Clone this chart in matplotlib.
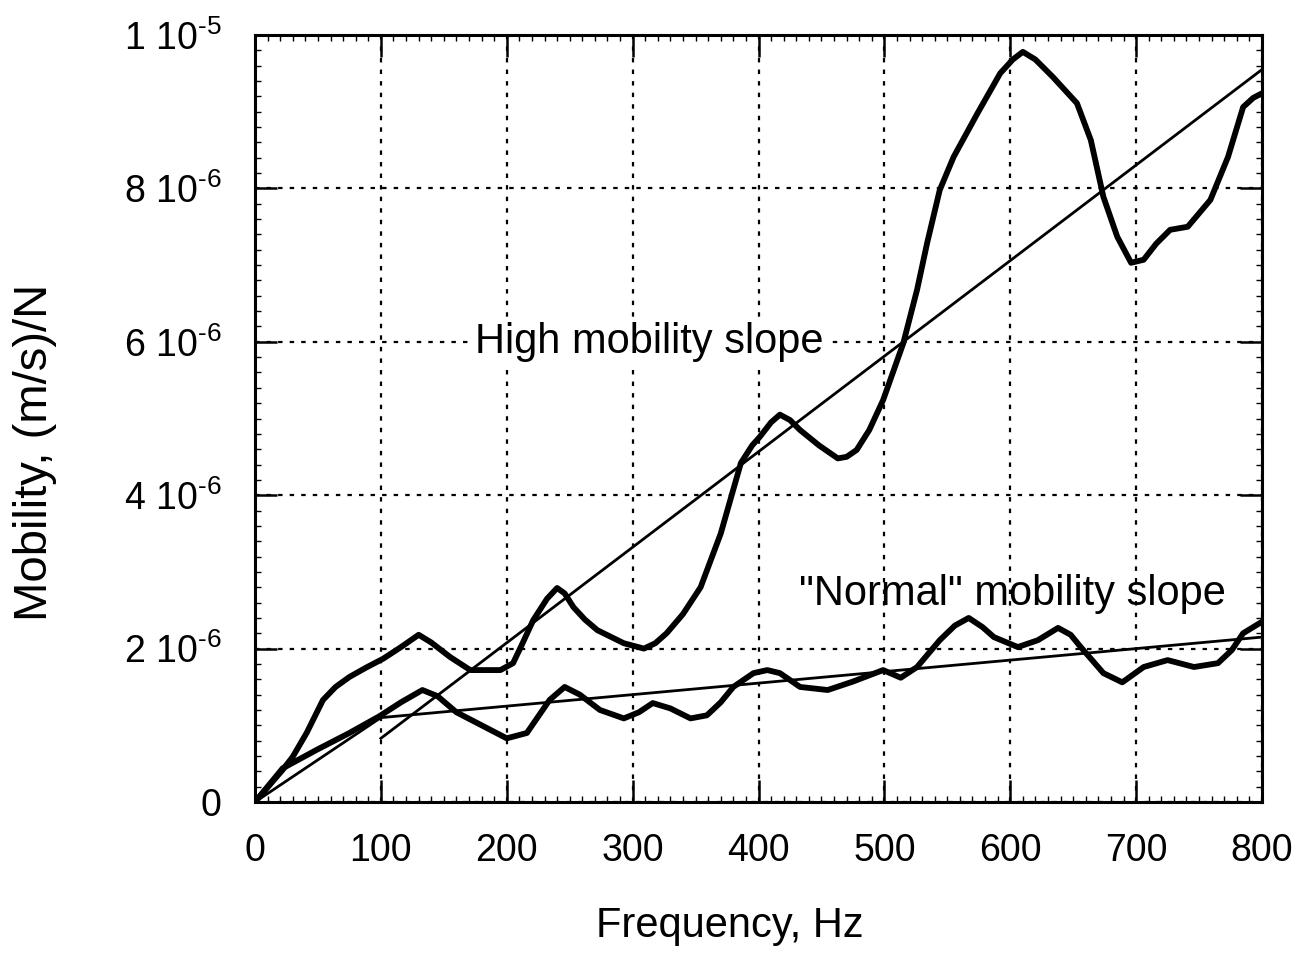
import numpy as np
import matplotlib
matplotlib.use("Agg")
import matplotlib.pyplot as plt
from matplotlib.ticker import MultipleLocator

# Measured mobility, units of 1e-6 (m/s)/N
high_freq = [0, 22, 30, 41, 54, 64, 75, 88, 102, 116, 130, 140, 155, 171, 195,
             205, 212, 221, 232, 240, 246, 253, 262, 272, 293, 309, 318, 327, 340,
             354, 370, 386, 395, 401, 410, 417, 425, 433, 448, 463, 470, 478, 488,
             499, 515, 526, 534, 544, 555, 574, 592, 602, 610, 620, 634, 653, 664,
             674, 685, 696, 706, 716, 727, 741, 759, 773, 785, 793, 800]
high_mob = [0, 0.42, 0.59, 0.90, 1.33, 1.50, 1.63, 1.75, 1.87, 2.02, 2.18, 2.08,
            1.89, 1.72, 1.72, 1.81, 2.05, 2.37, 2.65, 2.79, 2.72, 2.54, 2.38, 2.24,
            2.07, 2.00, 2.07, 2.20, 2.45, 2.80, 3.50, 4.42, 4.65, 4.76, 4.95, 5.05,
            4.98, 4.85, 4.65, 4.48, 4.50, 4.59, 4.85, 5.24, 5.98, 6.68, 7.29, 7.98,
            8.41, 8.98, 9.50, 9.68, 9.78, 9.68, 9.45, 9.11, 8.63, 7.89, 7.37, 7.03,
            7.07, 7.28, 7.46, 7.50, 7.85, 8.41, 9.06, 9.18, 9.24]

normal_freq = [0, 22, 49, 75, 99, 116, 133, 145, 160, 180, 200, 216, 234, 246,
               258, 274, 293, 305, 316, 330, 346, 359, 370, 380, 396, 407, 417, 433,
               455, 475, 499, 513, 526, 544, 556, 567, 578, 587, 606, 622, 638, 648,
               656, 674, 689, 706, 725, 746, 765, 776, 785, 800]
normal_mob = [0, 0.44, 0.68, 0.90, 1.12, 1.30, 1.46, 1.38, 1.17, 1.00, 0.83,
              0.90, 1.33, 1.50, 1.40, 1.20, 1.09, 1.17, 1.29, 1.22, 1.09, 1.13,
              1.30, 1.50, 1.68, 1.72, 1.68, 1.50, 1.46, 1.57, 1.72, 1.62, 1.76,
              2.11, 2.30, 2.40, 2.28, 2.15, 2.02, 2.11, 2.27, 2.18, 2.02, 1.68,
              1.56, 1.76, 1.85, 1.76, 1.81, 1.98, 2.20, 2.35]

# Fitted slopes
high_slope_freq = [100, 800]
high_slope_mob = [0.83, 9.55]
normal_slope_freq = [0, 100, 800]
normal_slope_mob = [0, 1.10, 2.15]

x_ticks = [0, 100, 200, 300, 400, 500, 600, 700, 800]
y_ticks = [0, 2e-6, 4e-6, 6e-6, 8e-6, 1e-5]
y_tick_labels = ["0", "2 10$^{\u20106}$", "4 10$^{\u20106}$", "6 10$^{\u20106}$",
                 "8 10$^{\u20106}$", "1 10$^{\u20105}$"]

plt.rcParams["font.family"] = ["Liberation Sans", "DejaVu Sans"]
plt.rcParams["mathtext.fontset"] = "custom"
plt.rcParams["mathtext.rm"] = "Liberation Sans"
plt.rcParams["mathtext.it"] = "Liberation Sans:italic"
plt.rcParams["mathtext.bf"] = "Liberation Sans:bold"
plt.rcParams["mathtext.default"] = "rm"

W, H = 1299, 958
fig = plt.figure(figsize=(W / 100, H / 100), dpi=100)
left, right, top, bottom = 255, 1262, 35, 802
ax = fig.add_axes([left / W, 1 - bottom / H, (right - left) / W, (bottom - top) / H])

scale = 1e-6
ax.plot(high_freq, np.array(high_mob) * scale, color="black", lw=4.2,
        solid_joinstyle="round", solid_capstyle="round", zorder=4)
ax.plot(normal_freq, np.array(normal_mob) * scale, color="black", lw=4.2,
        solid_joinstyle="round", solid_capstyle="round", zorder=4)
ax.plot(high_slope_freq, np.array(high_slope_mob) * scale, color="black", lw=2.0, zorder=3)
ax.plot(normal_slope_freq, np.array(normal_slope_mob) * scale, color="black", lw=2.0, zorder=3)

ax.set_xlim(0, 800)
ax.set_ylim(0, 1e-5)
ax.set_xticks(x_ticks)
ax.set_xticklabels([str(v) for v in x_ticks])
ax.set_yticks(y_ticks)
ax.set_yticklabels(y_tick_labels)
ax.xaxis.set_minor_locator(MultipleLocator(10))
ax.yaxis.set_minor_locator(MultipleLocator(2e-7))

ax.tick_params(which="major", direction="in", length=16, width=1.8,
               top=True, right=True, labelsize=27, colors="black")
ax.tick_params(axis="x", which="major", pad=22)
ax.tick_params(axis="y", which="major", pad=24)
ax.tick_params(which="minor", direction="in", length=4, width=1.0,
               top=True, right=True)

for sp in ax.spines.values():
    sp.set_linewidth(2.2)
    sp.set_color("black")

ax.grid(True, which="major", color="black", lw=1.6, linestyle=(0, (2.0, 3.2)), zorder=1)
ax.set_axisbelow(True)

ax.set_xlabel("Frequency, Hz", fontsize=30)
ax.xaxis.set_label_coords(0.472, -0.135)
ax.set_ylabel("Mobility, (m/s)/N", fontsize=34)
ax.yaxis.set_label_coords(-0.197, 0.456)

ax.text(175, 5.85e-6, "High mobility slope", fontsize=30, ha="left", va="baseline",
        bbox=dict(facecolor="white", edgecolor="none", pad=1.5), zorder=2)
ax.text(432, 2.57e-6, "\"Normal\" mobility slope", fontsize=30, ha="left",
        va="baseline", zorder=5)

fig.savefig("out.png", dpi=100, facecolor="white")
